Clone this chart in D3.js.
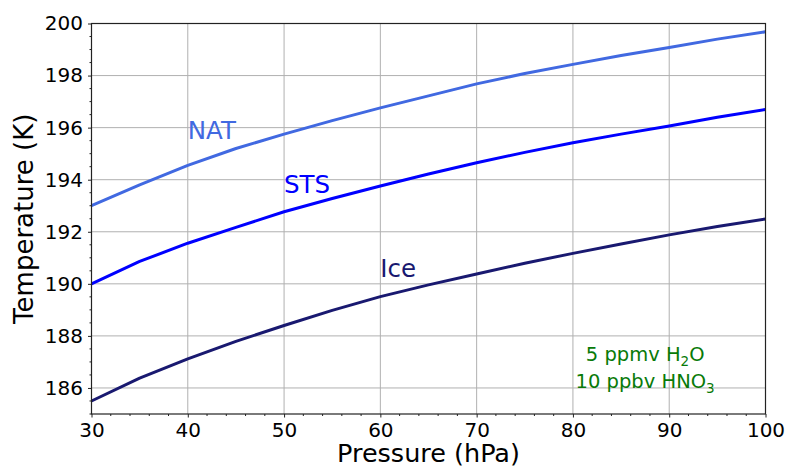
<!DOCTYPE html>
<html lang="en">
<head>
    <meta charset="UTF-8">
    <title>PSC existence temperatures</title>
    <script src="https://d3js.org/d3.v7.min.js"></script>
    <style>
        body {
            margin: 0;
            padding: 0;
            background-color: #fff;
        }
        svg text {
            font-family: "DejaVu Sans", sans-serif;
        }
    </style>
</head>
<body>
    <div id="chart"></div>

    <script>
        // Pressure levels (hPa)
        const pressure = [30, 35, 40, 45, 50, 55, 60, 65, 70, 75, 80, 85, 90, 95, 100];

        // Existence temperatures (K)
        const natTemp = [193.0, 193.8, 194.55, 195.2, 195.75, 196.27, 196.76, 197.22, 197.68, 198.08, 198.43, 198.77, 199.08, 199.4, 199.68];
        const stsTemp = [190.0, 190.86, 191.56, 192.17, 192.77, 193.28, 193.76, 194.22, 194.65, 195.05, 195.42, 195.75, 196.06, 196.4, 196.7];
        const iceTemp = [185.5, 186.38, 187.12, 187.79, 188.4, 188.98, 189.51, 189.96, 190.38, 190.79, 191.17, 191.53, 191.88, 192.2, 192.49];

        const xTicks = [30, 40, 50, 60, 70, 80, 90, 100];
        const yTicks = [186, 188, 190, 192, 194, 196, 198, 200];

        const series = [
            { name: "NAT", values: natTemp, color: "#4169e1", labelAt: [40, 195.55] },
            { name: "STS", values: stsTemp, color: "#0000ff", labelAt: [50, 193.5] },
            { name: "Ice", values: iceTemp, color: "#191970", labelAt: [60, 190.25] }
        ];

        const W = 786, H = 468;
        const margin = { top: 23.5, right: 20.5, bottom: 54, left: 91.5 },
              width = W - margin.left - margin.right,
              height = H - margin.top - margin.bottom;

        const svg = d3.select("#chart").append("svg")
            .attr("width", W)
            .attr("height", H);

        const g = svg.append("g")
            .attr("transform", `translate(${margin.left},${margin.top})`);

        const x = d3.scaleLinear().domain([30, 100]).range([0, width]);
        const y = d3.scaleLinear().domain([185, 200]).range([height, 0]);

        // grid
        g.append("g").selectAll("line").data(xTicks).join("line")
            .attr("x1", d => x(d)).attr("x2", d => x(d))
            .attr("y1", 0).attr("y2", height)
            .attr("stroke", "#b0b0b0").attr("stroke-width", 1);
        g.append("g").selectAll("line").data(yTicks).join("line")
            .attr("x1", 0).attr("x2", width)
            .attr("y1", d => y(d)).attr("y2", d => y(d))
            .attr("stroke", "#b0b0b0").attr("stroke-width", 1);

        // minor ticks
        const xMinor = d3.range(30, 100.01, 2).filter(d => !xTicks.includes(d));
        const yMinor = d3.range(185, 200.01, 0.5).filter(d => !yTicks.includes(d));

        const xAxis = g.append("g")
            .attr("transform", `translate(0,${height})`)
            .call(d3.axisBottom(x).tickValues(xTicks).tickSize(3.5).tickPadding(5));
        xAxis.append("g").selectAll("line").data(xMinor).join("line")
            .attr("x1", d => x(d)).attr("x2", d => x(d))
            .attr("y1", 0).attr("y2", 2).attr("stroke", "#222");

        const yAxis = g.append("g")
            .call(d3.axisLeft(y).tickValues(yTicks).tickSize(3.5).tickPadding(5));
        yAxis.append("g").selectAll("line").data(yMinor).join("line")
            .attr("x1", 0).attr("x2", -2)
            .attr("y1", d => y(d)).attr("y2", d => y(d)).attr("stroke", "#222");

        [xAxis, yAxis].forEach(a => {
            a.select(".domain").remove();
            a.selectAll(".tick line").attr("stroke", "#222");
            a.selectAll(".tick text")
                .attr("fill", "#000")
                .style("font-size", "20px");
        });

        // series lines
        const line = d3.line()
            .x((d, i) => x(pressure[i]))
            .y(d => y(d));

        series.forEach(s => {
            g.append("path")
                .datum(s.values)
                .attr("fill", "none")
                .attr("stroke", s.color)
                .attr("stroke-width", 3)
                .attr("stroke-linejoin", "round")
                .attr("d", line);

            g.append("text")
                .attr("x", x(s.labelAt[0]))
                .attr("y", y(s.labelAt[1]))
                .attr("fill", s.color)
                .style("font-size", "24.5px")
                .text(s.name);
        });

        // frame
        g.append("rect")
            .attr("width", width).attr("height", height)
            .attr("fill", "none").attr("stroke", "#222").attr("stroke-width", 1.2);

        // annotation
        const noteX = x(87.5);
        const note = g.append("text")
            .attr("text-anchor", "middle")
            .attr("fill", "#087a08")
            .style("font-size", "19.5px");
        note.append("tspan").attr("x", noteX).attr("y", y(187.02)).text("5 ppmv H");
        note.append("tspan").attr("dy", 5).style("font-size", "13.5px").text("2");
        note.append("tspan").attr("dy", -5).text("O");
        note.append("tspan").attr("x", noteX).attr("y", y(185.98)).text("10 ppbv HNO");
        note.append("tspan").attr("dy", 5).style("font-size", "13.5px").text("3");

        // axis labels
        svg.append("text")
            .attr("x", margin.left + width / 2)
            .attr("y", H - 6)
            .attr("text-anchor", "middle")
            .style("font-size", "25.5px")
            .text("Pressure (hPa)");

        svg.append("text")
            .attr("transform", `translate(33,${margin.top + height / 2}) rotate(-90)`)
            .attr("text-anchor", "middle")
            .style("font-size", "26px")
            .text("Temperature (K)");
    </script>
</body>
</html>
